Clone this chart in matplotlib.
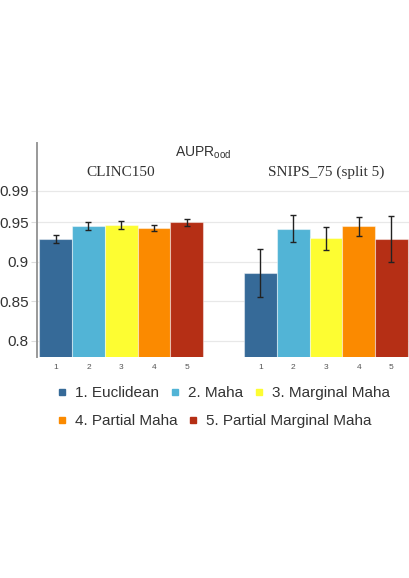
import numpy as np
import matplotlib
matplotlib.use("Agg")
import matplotlib.pyplot as plt
from matplotlib.lines import Line2D

# --- data ---
methods = ['1. Euclidean', '2. Maha', '3. Marginal Maha', '4. Partial Maha', '5. Partial Marginal Maha']
bar_labels = ['1', '2', '3', '4', '5']
colors = ['#366a98', '#52b4d6', '#fdfd32', '#fb8a00', '#b52f15']

datasets = ['CLINC150', 'SNIPS_75 (split 5)']
clinc_vals = [0.929, 0.945, 0.947, 0.943, 0.950]
clinc_err = [0.005, 0.005, 0.005, 0.004, 0.004]
snips_vals = [0.886, 0.942, 0.930, 0.945, 0.9285]
snips_err = [0.030, 0.017, 0.0146, 0.0124, 0.029]

yticks = [0.8, 0.85, 0.9, 0.95, 0.99]
ytick_labels = ['0.8', '0.85', '0.9', '0.95', '0.99']

plt.rcParams['font.family'] = ['Liberation Sans', 'DejaVu Sans']

W, H = 409, 578
fig = plt.figure(figsize=(W / 100, H / 100), dpi=100)
ax = fig.add_axes([37 / W, 1 - 356.7 / H, (408.5 - 37) / W, (356.7 - 143) / H])

# --- bars ---
group_offsets = [0.0, 6.25]
for off, vals, errs in zip(group_offsets, [clinc_vals, snips_vals], [clinc_err, snips_err]):
    x = off + np.arange(len(vals))
    ax.bar(x, vals, width=1.0, color=colors, edgecolor=(1, 1, 1, 0.45), linewidth=0.8, zorder=2)
    ax.errorbar(x, vals, yerr=errs, fmt='none', ecolor='#222222', elinewidth=1.0,
                capsize=2.2, capthick=1.0, zorder=3)

ax.set_ylim(0.7801, 1.0504)
ax.set_xlim(-0.57, 10.77)
ax.set_yticks(yticks)
ax.set_yticklabels(ytick_labels, fontsize=11, color='#333333')
xt = np.concatenate([group_offsets[0] + np.arange(5), group_offsets[1] + np.arange(5)])
ax.set_xticks(xt)
ax.set_xticklabels(bar_labels * 2, fontsize=6, color='#555555')
ax.tick_params(axis='x', length=0, pad=5)
ax.tick_params(axis='y', length=4, color='#dddddd', pad=2)
ax.grid(axis='y', color='#e8e8e8', linewidth=0.9, zorder=0)
ax.set_axisbelow(True)
for s in ['top', 'right', 'bottom']:
    ax.spines[s].set_visible(False)
ax.spines['left'].set_color('#999999')
ax.spines['left'].set_linewidth(1.4)

# --- titles ---
fig.text(203 / W, 1 - 153 / H, 'AUPR$_{\\mathregular{ood}}$', ha='center', va='center',
         fontsize=10, color='#333333')
fig.text(121 / W, 1 - 172 / H, datasets[0], ha='center', va='center', fontsize=11,
         family='Liberation Serif', color='#333333')
fig.text(326.5 / W, 1 - 172 / H, datasets[1], ha='center', va='center', fontsize=11,
         family='Liberation Serif', color='#333333')

# --- legend in two rows ---
handles = [Line2D([], [], marker='s', linestyle='none', markersize=5,
                  markerfacecolor=c, markeredgecolor=c) for c in colors]
leg_kw = dict(frameon=False, fontsize=11, handlelength=0.6, handletextpad=0.55,
              columnspacing=0.75, borderpad=0, borderaxespad=0, labelcolor='#333333')
fig.legend(handles[:3], methods[:3], ncol=3, loc='center left',
           bbox_to_anchor=(57 / W, 1 - 393 / H), **leg_kw)
fig.legend(handles[3:], methods[3:], ncol=2, loc='center left',
           bbox_to_anchor=(57 / W, 1 - 421 / H), **leg_kw)

fig.savefig('out.png', dpi=100)
